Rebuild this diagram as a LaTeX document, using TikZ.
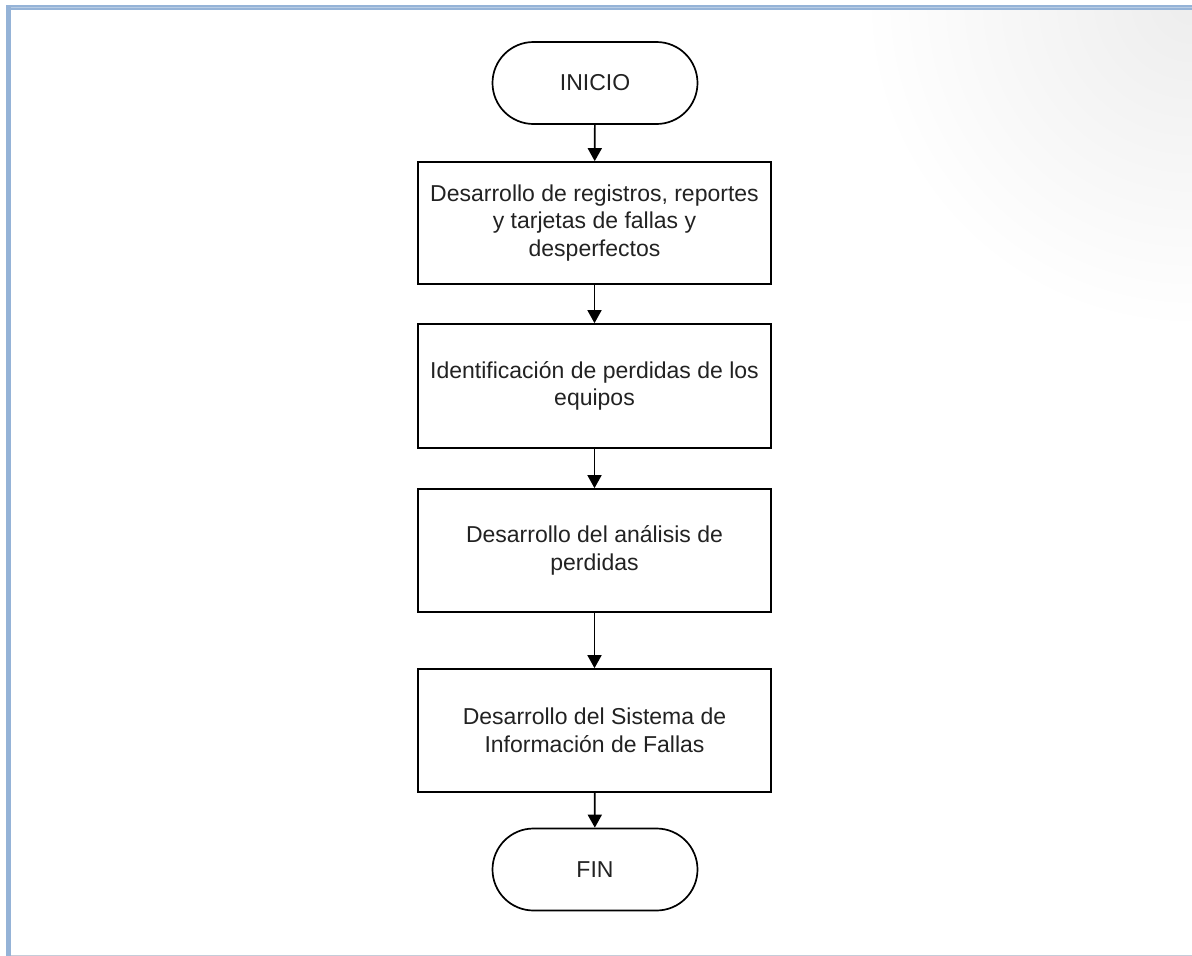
\documentclass[tikz,border=0pt]{standalone}
\usepackage{fontspec}
\setmainfont{Liberation Sans}
\usetikzlibrary{arrows.meta,shapes.misc}
\definecolor{barblue}{HTML}{95B3D7}
\definecolor{barlight}{HTML}{B8CCE4}
\definecolor{botline}{HTML}{C5CCD9}
\definecolor{txt}{HTML}{222222}
\begin{document}
\begin{tikzpicture}[x=1pt,y=-1pt,
  proc/.style={draw, line width=1.7pt, minimum width=353pt, align=center,
    font=\fontsize{23}{27.5}\selectfont, text=txt, inner sep=0pt},
  term/.style={draw, line width=1.7pt, rounded rectangle, minimum width=205pt,
    minimum height=82pt, font=\fontsize{23}{27.5}\selectfont, text=txt, inner sep=0pt},
  arr/.style={line width=1.7pt, -{Triangle[length=13pt,width=14pt]}}]
\useasboundingbox (0,0) rectangle (1192,956);
\fill[white] (0,0) rectangle (1192,956);
\begin{scope}
  \clip (11,10) rectangle (1192,956);
  \shade[inner color=black!7, outer color=white] (1192,0) circle (330);
\end{scope}
% frame
\fill[barblue] (6,5) rectangle (1192,10);
\fill[barlight] (11,7) rectangle (1192,8);
\fill[barblue] (6,5) rectangle (11,956);
\fill[botline] (11,954.5) rectangle (1192,955.5);
% nodes
\node[term] (ini) at (595,83) {INICIO};
\node[proc, minimum height=122pt] (b1) at (594.5,223) {Desarrollo de registros, reportes\\y tarjetas de fallas y\\desperfectos};
\node[proc, minimum height=124pt] (b2) at (594.5,386) {Identificación de perdidas de los\\equipos};
\node[proc, minimum height=123pt] (b3) at (594.5,550.5) {Desarrollo del análisis de\\perdidas};
\node[proc, minimum height=123pt] (b4) at (594.5,730.5) {Desarrollo del Sistema de\\Información de Fallas};
\node[term] (fin) at (595,869.5) {FIN};
% connectors
\draw[arr] (ini) -- (b1);
\draw[arr] (b1) -- (b2);
\draw[arr] (b2) -- (b3);
\draw[arr] (b3) -- (b4);
\draw[arr] (b4) -- (fin);
\end{tikzpicture}
\end{document}
